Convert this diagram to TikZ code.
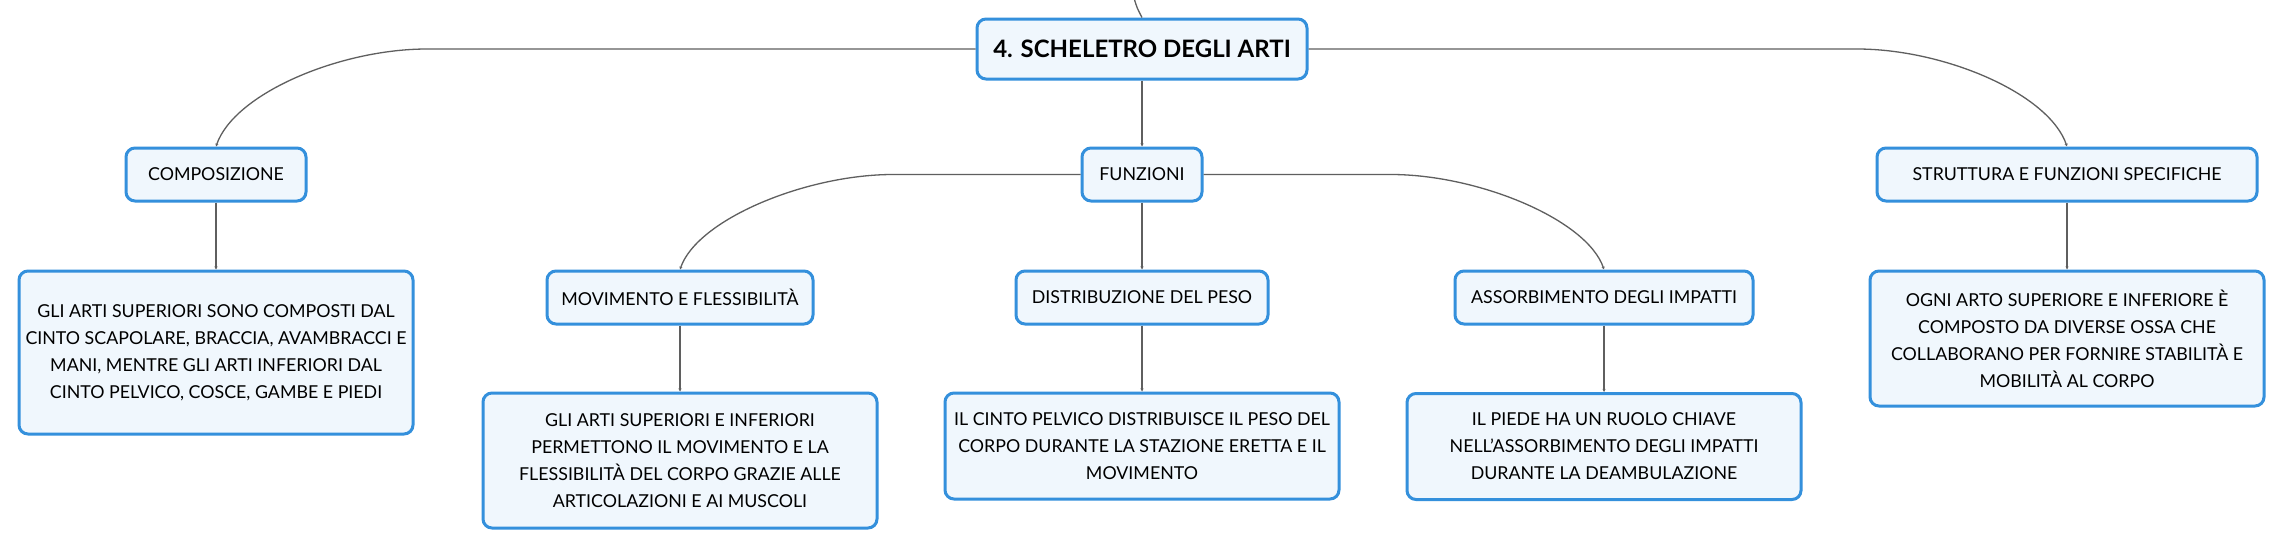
\documentclass[tikz,border=0pt]{standalone}
\usepackage{fontspec}
\setmainfont{Lato}
\usetikzlibrary{arrows.meta}
\definecolor{mmblue}{RGB}{52,144,220}
\definecolor{mmfill}{RGB}{240,247,253}
\definecolor{mmline}{RGB}{95,95,95}
\begin{document}
\begin{tikzpicture}[x=1pt,y=-1pt,
  box/.style={draw=mmblue,fill=mmfill,line width=3pt,rounded corners=9pt,
    inner sep=0pt,align=center,font=\fontsize{17.8}{27}\selectfont},
  rootbox/.style={box,font=\fontsize{24}{28}\selectfont\bfseries},
  conn/.style={draw=mmline,line width=1.3pt,-{Stealth[length=3pt,width=3pt]}}]
\fill[white] (0,0) rectangle (2284,549);
\useasboundingbox (0,0) rectangle (2284,549);
% nodes
\node[rootbox,minimum width=330pt,minimum height=60pt] (root) at (1142,49) {4. SCHELETRO DEGLI ARTI};
\node[box,minimum width=180pt,minimum height=53pt] (comp) at (216,174.5) {COMPOSIZIONE};
\node[box,minimum width=120pt,minimum height=53pt] (funz) at (1142,174.5) {FUNZIONI};
\node[box,minimum width=380pt,minimum height=53pt] (strut) at (2067,174.5) {STRUTTURA E FUNZIONI SPECIFICHE};
\node[box,minimum width=394pt,minimum height=163pt] (compc) at (216,352.5) {GLI ARTI SUPERIORI SONO COMPOSTI DAL\\CINTO SCAPOLARE, BRACCIA, AVAMBRACCI E\\MANI, MENTRE GLI ARTI INFERIORI DAL\\CINTO PELVICO, COSCE, GAMBE E PIEDI};
\node[box,minimum width=266pt,minimum height=53pt] (mov) at (680,297.5) {MOVIMENTO E FLESSIBILITÀ};
\node[box,minimum width=252pt,minimum height=53pt] (dist) at (1142,297.5) {DISTRIBUZIONE DEL PESO};
\node[box,minimum width=298pt,minimum height=53pt] (ass) at (1604,297.5) {ASSORBIMENTO DEGLI IMPATTI};
\node[box,minimum width=394pt,minimum height=135pt] (movc) at (680,460.5) {GLI ARTI SUPERIORI E INFERIORI\\PERMETTONO IL MOVIMENTO E LA\\FLESSIBILITÀ DEL CORPO GRAZIE ALLE\\ARTICOLAZIONI E AI MUSCOLI};
\node[box,minimum width=394pt,minimum height=106pt] (distc) at (1142,446) {IL CINTO PELVICO DISTRIBUISCE IL PESO DEL\\CORPO DURANTE LA STAZIONE ERETTA E IL\\MOVIMENTO};
\node[box,minimum width=394pt,minimum height=106pt] (assc) at (1604,446.5) {IL PIEDE HA UN RUOLO CHIAVE\\NELL’ASSORBIMENTO DEGLI IMPATTI\\DURANTE LA DEAMBULAZIONE};
\node[box,minimum width=394pt,minimum height=135pt] (strutc) at (2067,338.5) {OGNI ARTO SUPERIORE E INFERIORE È\\COMPOSTO DA DIVERSE OSSA CHE\\COLLABORANO PER FORNIRE STABILITÀ E\\MOBILITÀ AL CORPO};
% incoming line from above
\coordinate (up) at (1134,-2);
\draw[draw=mmline,line width=1.3pt] (up) .. controls (1137,8) .. (root.north);
% connectors
\path[conn] (root.west) -- (427,49) .. controls +(-87,0) and +(18,-53) .. (comp.north);
\path[conn] (root.east) -- (1857,49) .. controls +(87,0) and +(-18,-53) .. (strut.north);
\path[conn] (root.south) -- (funz.north);
\path[conn] (funz.west) -- (893,174.5) .. controls +(-87,0) and +(17,-50) .. (mov.north);
\path[conn] (funz.east) -- (1391,174.5) .. controls +(87,0) and +(-17,-50) .. (ass.north);
\path[conn] (funz.south) -- (dist.north);
\path[conn] (comp.south) -- (compc.north);
\path[conn] (mov.south) -- (movc.north);
\path[conn] (dist.south) -- (distc.north);
\path[conn] (ass.south) -- (assc.north);
\path[conn] (strut.south) -- (strutc.north);
\end{tikzpicture}
\end{document}
